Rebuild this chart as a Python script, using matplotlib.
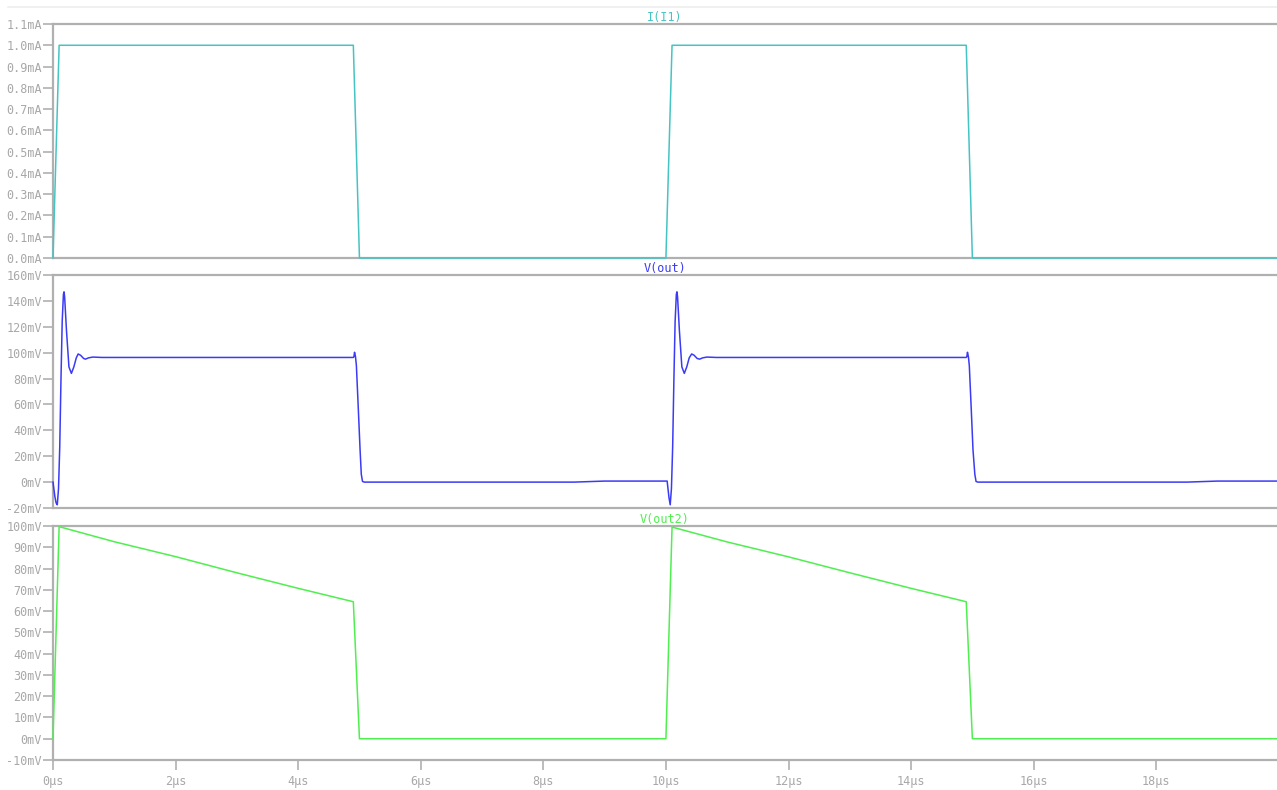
import numpy as np
import matplotlib
matplotlib.use("Agg")
import matplotlib.pyplot as plt
from matplotlib.lines import Line2D

# time axis in microseconds
xTicks = [0, 2, 4, 6, 8, 10, 12, 14, 16, 18]
xTickLabels = ["0µs", "2µs", "4µs", "6µs", "8µs", "10µs", "12µs", "14µs", "16µs", "18µs"]

# I(I1) in mA
iTime = [0, 0.1, 4.9, 5.0, 10.0, 10.1, 14.9, 15.0, 19.97]
iVal = [0, 1.0, 1.0, 0, 0, 1.0, 1.0, 0, 0]
iTicks = [0.0, 0.1, 0.2, 0.3, 0.4, 0.5, 0.6, 0.7, 0.8, 0.9, 1.0, 1.1]
iTickLabels = ["0.0mA", "0.1mA", "0.2mA", "0.3mA", "0.4mA", "0.5mA",
               "0.6mA", "0.7mA", "0.8mA", "0.9mA", "1.0mA", "1.1mA"]

# V(out) in mV
vTime = [0, 0.03, 0.05, 0.07, 0.09, 0.11, 0.13, 0.15, 0.17, 0.18, 0.19, 0.22,
         0.26, 0.30, 0.34, 0.38, 0.41, 0.45, 0.50, 0.53, 0.58, 0.65, 0.80, 4.90,
         4.91, 4.92, 4.935, 4.95, 4.98, 5.01, 5.03, 5.05, 5.08, 8.5, 9.0, 10.02,
         10.05, 10.07, 10.09, 10.11, 10.13, 10.15, 10.17, 10.18, 10.19, 10.22,
         10.26, 10.30, 10.34, 10.38, 10.42, 10.46, 10.51, 10.55, 10.60, 10.67, 10.82, 14.90,
         14.91, 14.92, 14.935, 14.95, 14.98, 15.01, 15.04, 15.06, 15.09, 18.5, 19.0, 19.97]
vVal = [0, -11, -16, -17.5, -5, 27, 79, 124, 145, 147, 143, 117,
        89, 84, 89, 96, 99, 98, 95.5, 95, 96, 96.6, 96.3, 96.3,
        97, 100.3, 97, 90, 58, 25, 6, 0.5, 0, 0, 0.8, 0.8,
        -12, -17.5, -5, 27, 79, 124, 145, 147, 143, 117,
        89, 84, 89, 96, 99, 98, 95.5, 95, 96, 96.6, 96.3, 96.3,
        97, 100.3, 97, 90, 58, 25, 6, 0.5, 0, 0, 0.8, 0.8]
vTicks = [-20, 0, 20, 40, 60, 80, 100, 120, 140, 160]
vTickLabels = ["-20mV", "0mV", "20mV", "40mV", "60mV", "80mV",
               "100mV", "120mV", "140mV", "160mV"]

# V(out2) in mV
v2Time = [0, 0.1, 1.0, 2.0, 3.0, 4.0, 4.9, 5.0, 10.0, 10.1, 11.0, 12.0, 13.0, 14.0, 14.9, 15.0, 19.97]
v2Val = [0, 99.7, 92.6, 85.6, 78.0, 70.7, 64.4, 0, 0, 99.5, 92.5, 85.5, 78.0, 70.7, 64.4, 0, 0]
v2Ticks = [-10, 0, 10, 20, 30, 40, 50, 60, 70, 80, 90, 100]
v2TickLabels = ["-10mV", "0mV", "10mV", "20mV", "30mV", "40mV",
                "50mV", "60mV", "70mV", "80mV", "90mV", "100mV"]

W, H = 1277, 790
fig = plt.figure(figsize=(W / 100, H / 100), dpi=100)
plt.rcParams['font.family'] = ['DejaVu Sans Mono']

spineCol = "#b0b0b0"
textCol = "#a8a8a8"
left = 53 / W
width = 1 - left

panels = [
    (24, 258, iTime, iVal, "#45c4c4", "I(I1)", iTicks, iTickLabels, (0, 1.1)),
    (275, 508, vTime, vVal, "#3b3bf5", "V(out)", vTicks, vTickLabels, (-20, 160)),
    (526, 760, v2Time, v2Val, "#4fef4f", "V(out2)", v2Ticks, v2TickLabels, (-10, 100)),
]

for idx, (top, bot, tx, ty, col, title, yt, ytl, ylim) in enumerate(panels):
    ax = fig.add_axes([left, 1 - bot / H, width, (bot - top) / H])
    ax.plot(tx, ty, color=col, lw=1.1, zorder=3, clip_on=False)
    ax.set_xlim(0, 19.97)
    ax.set_ylim(*ylim)
    ax.set_yticks(yt)
    ax.set_yticklabels(ytl)
    for s in ["left", "top", "bottom"]:
        ax.spines[s].set_color(spineCol)
        ax.spines[s].set_linewidth(1.6)
    ax.spines["right"].set_visible(False)
    ax.tick_params(axis="y", colors=spineCol, labelcolor=textCol,
                   labelsize=8.5, length=7, width=1.2, pad=1)
    if idx == 2:
        ax.set_xticks(xTicks)
        ax.set_xticklabels(xTickLabels)
        ax.tick_params(axis="x", colors=spineCol, labelcolor=textCol,
                       labelsize=8.5, length=7, width=1.2, pad=4)
    else:
        ax.set_xticks([])
    ax.set_title(title, color=col, fontsize=8.6, pad=1.5)

fig.add_artist(Line2D([8 / W, 1], [1 - 7 / H, 1 - 7 / H], color="#eeeeee", lw=1.2))

fig.savefig("out.png", dpi=100)
